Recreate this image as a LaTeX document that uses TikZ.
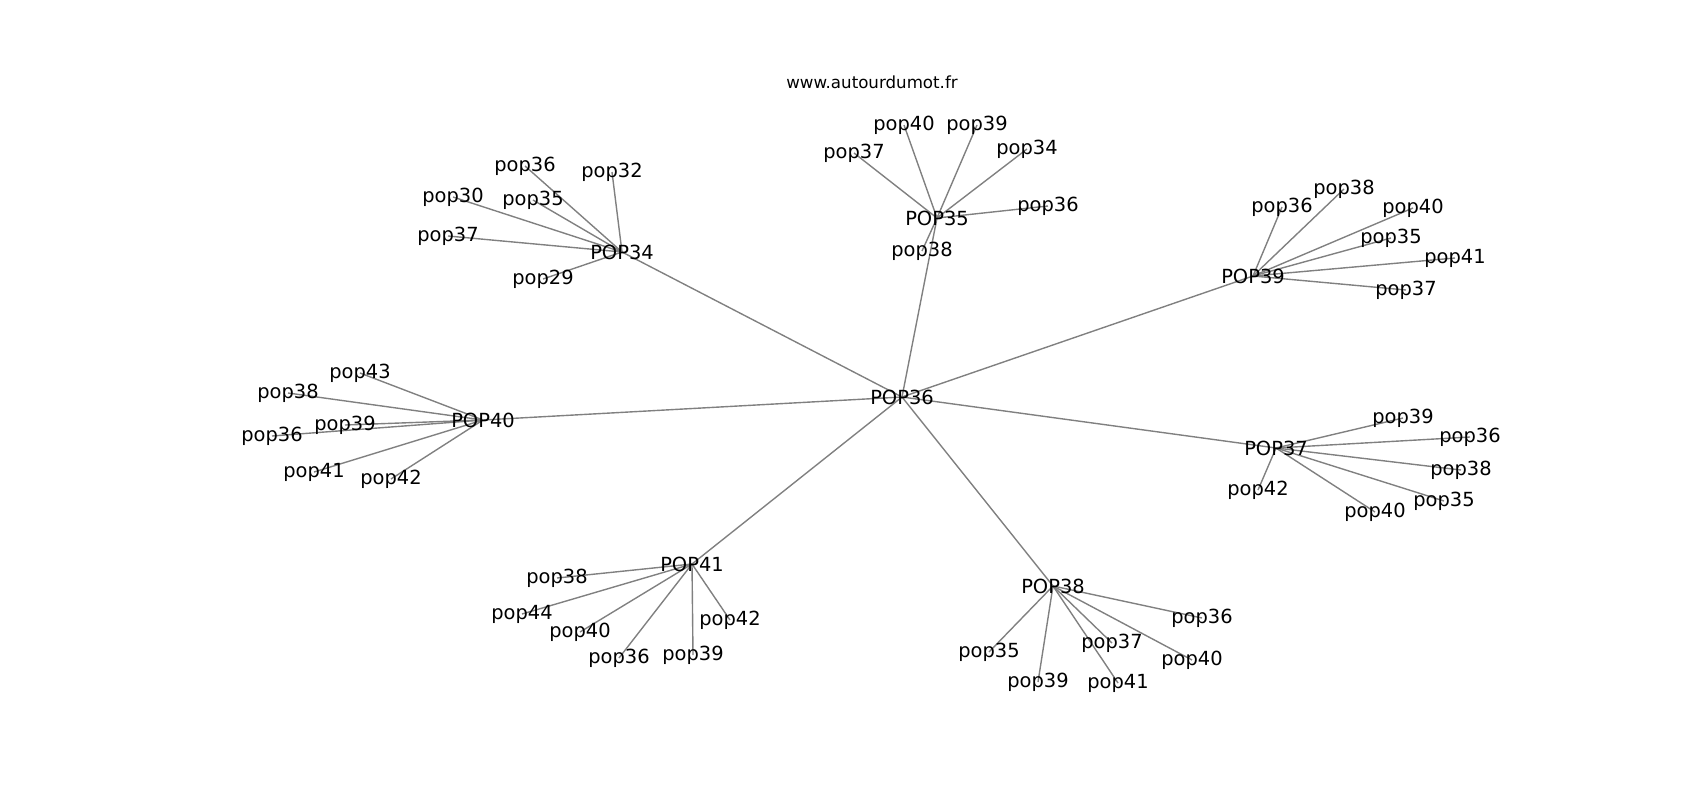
\documentclass[tikz,border=0pt]{standalone}
\usepackage{fontspec}
\setmainfont{DejaVu Sans}
\usetikzlibrary{backgrounds}
\begin{document}
\begin{tikzpicture}
[
x=0.72pt, y=-0.72pt,
hub/.style={inner sep=0pt, font=\fontsize{14}{17}\selectfont},
leaf/.style={inner sep=0pt, font=\fontsize{14}{17}\selectfont},
site/.style={inner sep=0pt, font=\fontsize{12}{14}\selectfont},
link/.style={draw=black!50, line width=1bp}
]
\useasboundingbox (0,0) rectangle (1700,800);
%Nodes
\node[site]  (url)    at (872,82)   {www.autourdumot.fr};
\node[hub]   (POP36)  at (902,397)  {POP36};
\node[hub]   (POP34)  at (622,252)  {POP34};
\node[hub]   (POP35)  at (937,218)  {POP35};
\node[hub]   (POP39)  at (1253,276) {POP39};
\node[hub]   (POP40)  at (483,420)  {POP40};
\node[hub]   (POP37)  at (1276,448) {POP37};
\node[hub]   (POP41)  at (692,564)  {POP41};
\node[hub]   (POP38)  at (1053,586) {POP38};

%POP34
\node[leaf]  (p34_36) at (525,166)  {pop36};
\node[leaf]  (p34_32) at (612,172)  {pop32};
\node[leaf]  (p34_30) at (453,197)  {pop30};
\node[leaf]  (p34_35) at (533,200)  {pop35};
\node[leaf]  (p34_37) at (448,236)  {pop37};
\node[leaf]  (p34_29) at (543,279)  {pop29};
%POP35
\node[leaf]  (p35_37) at (854,153)  {pop37};
\node[leaf]  (p35_40) at (904,125)  {pop40};
\node[leaf]  (p35_39) at (977,125)  {pop39};
\node[leaf]  (p35_34) at (1027,149) {pop34};
\node[leaf]  (p35_36) at (1048,206) {pop36};
\node[leaf]  (p35_38) at (922,251)  {pop38};
%POP39
\node[leaf]  (p39_36) at (1282,207) {pop36};
\node[leaf]  (p39_38) at (1344,189) {pop38};
\node[leaf]  (p39_40) at (1413,208) {pop40};
\node[leaf]  (p39_35) at (1391,238) {pop35};
\node[leaf]  (p39_41) at (1455,258) {pop41};
\node[leaf]  (p39_37) at (1406,290) {pop37};
%POP40
\node[leaf]  (p40_43) at (360,373)  {pop43};
\node[leaf]  (p40_38) at (288,393)  {pop38};
\node[leaf]  (p40_39) at (345,425)  {pop39};
\node[leaf]  (p40_36) at (272,436)  {pop36};
\node[leaf]  (p40_41) at (314,472)  {pop41};
\node[leaf]  (p40_42) at (391,479)  {pop42};
%POP37
\node[leaf]  (p37_39) at (1403,418) {pop39};
\node[leaf]  (p37_36) at (1470,437) {pop36};
\node[leaf]  (p37_38) at (1461,470) {pop38};
\node[leaf]  (p37_35) at (1444,501) {pop35};
\node[leaf]  (p37_40) at (1375,512) {pop40};
\node[leaf]  (p37_42) at (1258,490) {pop42};
%POP41
\node[leaf]  (p41_38) at (557,578)  {pop38};
\node[leaf]  (p41_44) at (522,614)  {pop44};
\node[leaf]  (p41_40) at (580,632)  {pop40};
\node[leaf]  (p41_36) at (619,658)  {pop36};
\node[leaf]  (p41_39) at (693,655)  {pop39};
\node[leaf]  (p41_42) at (730,620)  {pop42};
%POP38
\node[leaf]  (p38_36) at (1202,618) {pop36};
\node[leaf]  (p38_35) at (989,652)  {pop35};
\node[leaf]  (p38_37) at (1112,643) {pop37};
\node[leaf]  (p38_40) at (1192,660) {pop40};
\node[leaf]  (p38_39) at (1038,682) {pop39};
\node[leaf]  (p38_41) at (1118,683) {pop41};

%Lines
\begin{pgfonlayer}{background}
\foreach \h in {34,35,39,40,37,41,38}
  \path[link] (POP36.center) -- (POP\h.center);
\foreach \l in {36,32,30,35,37,29}
  \path[link] (POP34.center) -- (p34_\l.center);
\foreach \l in {37,40,39,34,36,38}
  \path[link] (POP35.center) -- (p35_\l.center);
\foreach \l in {36,38,40,35,41,37}
  \path[link] (POP39.center) -- (p39_\l.center);
\foreach \l in {43,38,39,36,41,42}
  \path[link] (POP40.center) -- (p40_\l.center);
\foreach \l in {39,36,38,35,40,42}
  \path[link] (POP37.center) -- (p37_\l.center);
\foreach \l in {38,44,40,36,39,42}
  \path[link] (POP41.center) -- (p41_\l.center);
\foreach \l in {36,35,37,40,39,41}
  \path[link] (POP38.center) -- (p38_\l.center);
\end{pgfonlayer}
\end{tikzpicture}
\end{document}
